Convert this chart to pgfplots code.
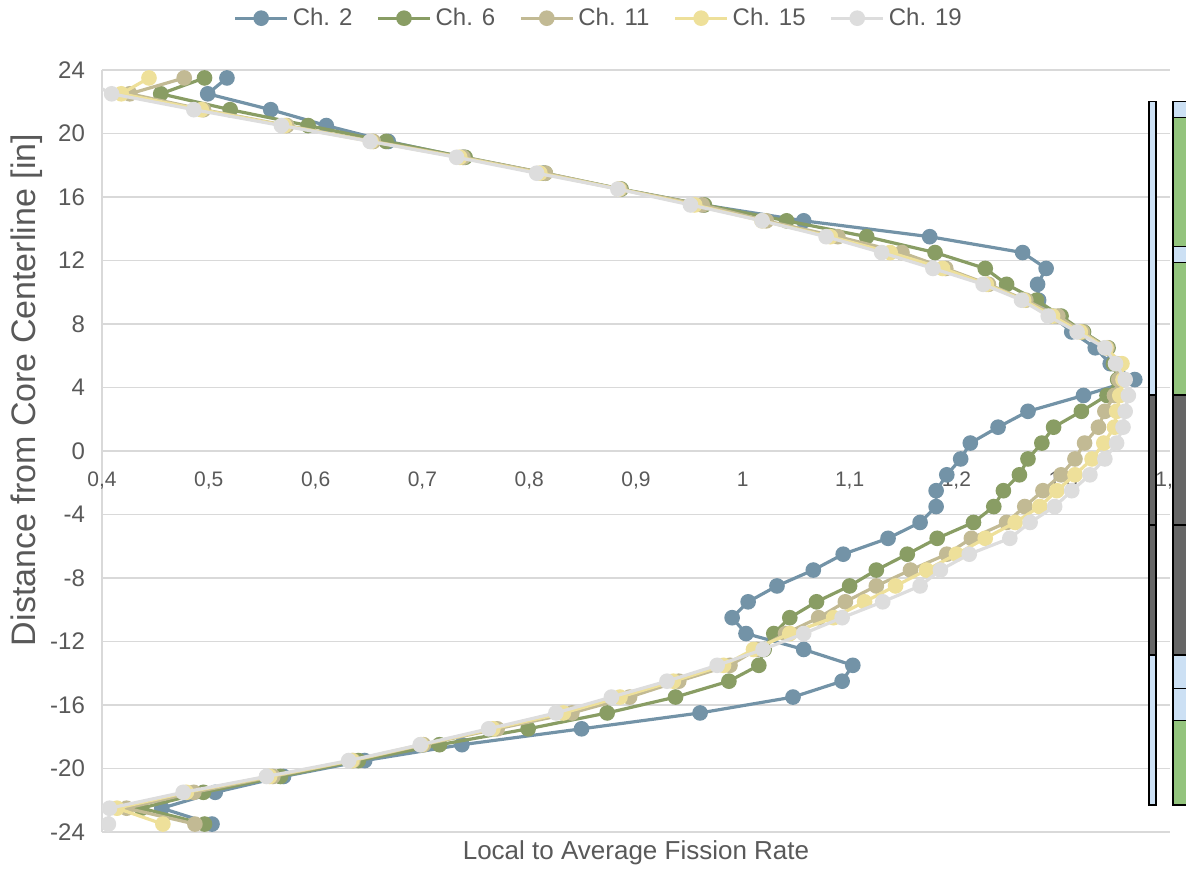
\documentclass[border=0pt]{standalone}
\usepackage{pgfplots}
\pgfplotsset{compat=1.18}
\usepackage{pgfplotstable}
\usepackage{fontspec}
\setmainfont{Liberation Sans}
\definecolor{txt}{HTML}{595959}
\definecolor{grd}{HTML}{D9D9D9}
\definecolor{cA}{HTML}{7393A7}
\definecolor{cB}{HTML}{899D64}
\definecolor{cC}{HTML}{C2BA94}
\definecolor{cD}{HTML}{EEE09A}
\definecolor{cE}{HTML}{DDDDDD}
\definecolor{lb}{HTML}{CCE0F4}
\definecolor{gn}{HTML}{93C47D}
\definecolor{dg}{HTML}{666666}

\pgfplotstableread{
y     c2     c6     c11    c15    c19
23.5  0.517  0.496  0.477  0.444  0.380
22.5  0.499  0.455  0.426  0.418  0.409
21.5  0.558  0.520  0.495  0.493  0.486
20.5  0.610  0.593  0.573  0.571  0.568
19.5  0.668  0.666  0.654  0.652  0.651
18.5  0.738  0.740  0.738  0.735  0.732
17.5  0.813  0.815  0.815  0.810  0.807
16.5  0.885  0.886  0.885  0.884  0.883
15.5  0.963  0.964  0.962  0.955  0.951
14.5  1.057  1.041  1.022  1.018  1.018
13.5  1.175  1.116  1.089  1.082  1.078
12.5  1.262  1.180  1.149  1.138  1.130
11.5  1.284  1.227  1.190  1.187  1.178
10.5  1.276  1.247  1.230  1.228  1.225
9.5   1.277  1.275  1.265  1.263  1.261
8.5   1.290  1.298  1.295  1.290  1.286
7.5   1.308  1.319  1.318  1.316  1.313
6.5   1.330  1.342  1.341  1.340  1.339
5.5   1.344  1.347  1.350  1.355  1.349
4.5   1.367  1.351  1.352  1.356  1.358
3.5   1.319  1.341  1.348  1.353  1.361
2.5   1.267  1.317  1.339  1.350  1.358
1.5   1.239  1.291  1.333  1.348  1.356
0.5   1.213  1.280  1.320  1.338  1.350
-0.5  1.204  1.267  1.311  1.327  1.339
-1.5  1.191  1.259  1.298  1.311  1.325
-2.5  1.181  1.244  1.281  1.294  1.308
-3.5  1.181  1.235  1.264  1.278  1.292
-4.5  1.166  1.216  1.247  1.255  1.269
-5.5  1.136  1.182  1.214  1.227  1.250
-6.5  1.094  1.154  1.191  1.200  1.212
-7.5  1.066  1.125  1.157  1.172  1.185
-8.5  1.032  1.100  1.125  1.143  1.166
-9.5  1.005  1.069  1.096  1.114  1.131
-10.5 0.990  1.044  1.071  1.085  1.093
-11.5 1.003  1.029  1.040  1.044  1.057
-12.5 1.057  1.020  1.013  1.010  1.019
-13.5 1.103  1.015  0.988  0.982  0.976
-14.5 1.093  0.987  0.940  0.935  0.929
-15.5 1.047  0.937  0.894  0.885  0.877
-16.5 0.960  0.873  0.840  0.832  0.825
-17.5 0.849  0.799  0.770  0.766  0.762
-18.5 0.737  0.716  0.701  0.699  0.698
-19.5 0.646  0.640  0.635  0.634  0.631
-20.5 0.570  0.567  0.560  0.557  0.554
-21.5 0.506  0.495  0.486  0.479  0.476
-22.5 0.456  0.437  0.423  0.414  0.407
-23.5 0.503  0.496  0.487  0.457  0.406
}\data

\begin{document}
\begin{tikzpicture}
\path[use as bounding box] (-51pt,-18.5pt) rectangle (542pt,416pt);
\begin{axis}[
  at={(0,0)}, anchor=south west,
  scale only axis, width=534pt, height=381pt,
  xmin=0.4, xmax=1.4, ymin=-24, ymax=24,
  axis x line=middle, axis y line=left,
  axis line style={grd, line width=0.7pt, -},
  xtick={0.4,0.5,0.6,0.7,0.8,0.9,1,1.1,1.2,1.3,1.4},
  ytick={-24,-20,-16,-12,-8,-4,0,4,8,12,16,20,24},
  ymajorgrids, grid style={grd, line width=0.7pt},
  major tick length=0pt,
  hide obscured x ticks=false, hide obscured y ticks=false,
  /pgf/number format/use comma,
  /pgf/number format/assume math mode=true,
  xticklabel style={font=\fontsize{10.5}{12}\selectfont, text=txt, yshift=-7pt},
  yticklabel style={font=\fontsize{12}{14}\selectfont, text=txt, xshift=-5pt},
  every axis x label/.style={at={(axis description cs:0.5,-0.0276)}, anchor=center,
    font=\fontsize{13}{15}\selectfont, text=txt},
  every axis y label/.style={at={(axis description cs:-0.0705,0.58)}, anchor=center, rotate=90,
    font=\fontsize{17}{19}\selectfont, text=txt},
  xlabel={Local to Average Fission Rate},
  ylabel={Distance from Core Centerline [in]},
  clip marker paths=true,
  legend style={at={(axis description cs:0.466,1.068)}, anchor=center, draw=none, fill=none,
    font=\fontsize{12}{14}\selectfont, text=txt,
    /tikz/every even column/.append style={column sep=10pt}},
  legend columns=5,
  legend image code/.code={\draw[#1, mark repeat=2, mark phase=2] plot coordinates {(0pt,0pt) (13pt,0pt) (26pt,0pt)};},
  every axis plot/.append style={line width=1.6pt, mark=*, mark size=3.1pt},
]
\addplot[color=cA] table[x=c2, y=y] {\data};
\addlegendentry{Ch. 2}
\addplot[color=cB] table[x=c6, y=y] {\data};
\addlegendentry{Ch. 6}
\addplot[color=cC] table[x=c11, y=y] {\data};
\addlegendentry{Ch. 11}
\addplot[color=cD] table[x=c15, y=y] {\data};
\addlegendentry{Ch. 15}
\addplot[color=cE] table[x=c19, y=y] {\data};
\addlegendentry{Ch. 19}
\end{axis}
\begin{axis}[
  at={(0,0)}, anchor=south west,
  scale only axis, width=534pt, height=381pt,
  xmin=0.4, xmax=1.4, ymin=-24, ymax=24,
  hide axis, clip=false,
]
% column 1
\addplot[fill=lb, draw=black, line width=0.6pt] coordinates {(1.3803,3.53) (1.3869,3.53) (1.3869,22.0) (1.3803,22.0)} -- cycle;
\addplot[fill=dg, draw=black, line width=0.6pt] coordinates {(1.3803,-4.66) (1.3869,-4.66) (1.3869,3.53) (1.3803,3.53)} -- cycle;
\addplot[fill=dg, draw=black, line width=0.6pt] coordinates {(1.3803,-12.85) (1.3869,-12.85) (1.3869,-4.66) (1.3803,-4.66)} -- cycle;
\addplot[fill=lb, draw=black, line width=0.6pt] coordinates {(1.3803,-22.3) (1.3869,-22.3) (1.3869,-12.85) (1.3803,-12.85)} -- cycle;
% column 2
\addplot[fill=lb, draw=black, line width=0.6pt] coordinates {(1.4028,21.0) (1.42,21.0) (1.42,22.0) (1.4028,22.0)} -- cycle;
\addplot[fill=gn, draw=black, line width=0.6pt] coordinates {(1.4028,12.87) (1.42,12.87) (1.42,21.0) (1.4028,21.0)} -- cycle;
\addplot[fill=lb, draw=black, line width=0.6pt] coordinates {(1.4028,11.86) (1.42,11.86) (1.42,12.87) (1.4028,12.87)} -- cycle;
\addplot[fill=gn, draw=black, line width=0.6pt] coordinates {(1.4028,3.53) (1.42,3.53) (1.42,11.86) (1.4028,11.86)} -- cycle;
\addplot[fill=dg, draw=black, line width=0.6pt] coordinates {(1.4028,-4.66) (1.42,-4.66) (1.42,3.53) (1.4028,3.53)} -- cycle;
\addplot[fill=dg, draw=black, line width=0.6pt] coordinates {(1.4028,-12.85) (1.42,-12.85) (1.42,-4.66) (1.4028,-4.66)} -- cycle;
\addplot[fill=lb, draw=black, line width=0.6pt] coordinates {(1.4028,-14.95) (1.42,-14.95) (1.42,-12.85) (1.4028,-12.85)} -- cycle;
\addplot[fill=lb, draw=black, line width=0.6pt] coordinates {(1.4028,-17.0) (1.42,-17.0) (1.42,-14.95) (1.4028,-14.95)} -- cycle;
\addplot[fill=gn, draw=black, line width=0.6pt] coordinates {(1.4028,-22.3) (1.42,-22.3) (1.42,-17.0) (1.4028,-17.0)} -- cycle;
\end{axis}
\end{tikzpicture}
\end{document}
